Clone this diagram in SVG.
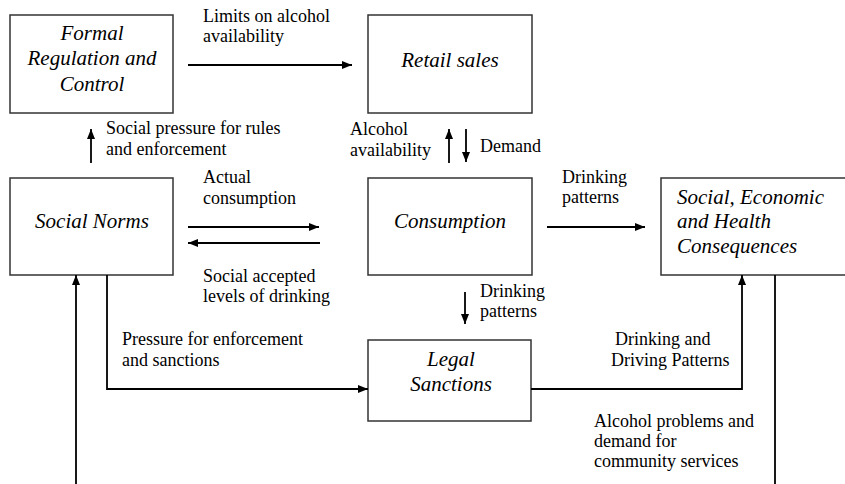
<svg xmlns="http://www.w3.org/2000/svg" width="845" height="484" viewBox="0 0 845 484">
<style>
  .box { fill: #ffffff; stroke: #333333; stroke-width: 1.5; }
  .node { font-style: italic; font-size: 21px; fill: #000000; }
  .lbl { font-size: 18px; fill: #000000; }
  .conn { fill: none; stroke: #000000; stroke-width: 1.8; }
  .mid { text-anchor: middle; }
</style>
<defs>
  <marker id="arr" markerUnits="userSpaceOnUse" markerWidth="11" markerHeight="9" refX="10" refY="4" orient="auto">
    <path d="M0,0 L10,4 L0,8 z" fill="#000000"/>
  </marker>
</defs>
<rect width="845" height="484" fill="#ffffff"/>

<g font-family="Liberation Serif, DejaVu Serif, serif">
<g id="formal">
  <rect class="box" x="10" y="15" width="163" height="98"/>
  <text class="node mid" x="92" y="40">Formal</text>
  <text class="node mid" x="92" y="65">Regulation and</text>
  <text class="node mid" x="92" y="91">Control</text>
</g>
<g id="retail">
  <rect class="box" x="368" y="15" width="164" height="98"/>
  <text class="node mid" x="450" y="67">Retail sales</text>
</g>
<g id="norms">
  <rect class="box" x="10" y="178" width="163" height="97"/>
  <text class="node mid" x="92" y="228">Social Norms</text>
</g>
<g id="consumption">
  <rect class="box" x="368" y="178" width="164" height="97"/>
  <text class="node mid" x="450" y="228">Consumption</text>
</g>
<g id="consequences">
  <rect class="box" x="661" y="178" width="190" height="97"/>
  <text class="node" x="677" y="204">Social, Economic</text>
  <text class="node" x="677" y="228">and Health</text>
  <text class="node" x="677" y="253">Consequences</text>
</g>
<g id="legal">
  <rect class="box" x="368" y="340" width="163" height="81"/>
  <text class="node mid" x="451" y="366">Legal</text>
  <text class="node mid" x="451" y="391">Sanctions</text>
</g>

<g id="connectors">
  <path class="conn" d="M188,65 H352" marker-end="url(#arr)"/>
  <path class="conn" d="M91,163 V129" marker-end="url(#arr)"/>
  <path class="conn" d="M449,163 V129" marker-end="url(#arr)"/>
  <path class="conn" d="M466,129 V162" marker-end="url(#arr)"/>
  <path class="conn" d="M188,227 H319" marker-end="url(#arr)"/>
  <path class="conn" d="M320,243 H188" marker-end="url(#arr)"/>
  <path class="conn" d="M547,227 H645" marker-end="url(#arr)"/>
  <path class="conn" d="M465,292 V324" marker-end="url(#arr)"/>
  <path class="conn" d="M107,275 V389 H368" marker-end="url(#arr)"/>
  <path class="conn" d="M531,389 H742 V275" marker-end="url(#arr)"/>
  <path class="conn" d="M775,275 V487 H76 V275" marker-end="url(#arr)"/>

  <text class="lbl" x="203" y="22">Limits on alcohol</text>
  <text class="lbl" x="203" y="42">availability</text>
  <text class="lbl" x="106" y="134">Social pressure for rules</text>
  <text class="lbl" x="106" y="155">and enforcement</text>
  <text class="lbl" x="350" y="135">Alcohol</text>
  <text class="lbl" x="350" y="156">availability</text>
  <text class="lbl" x="480" y="152">Demand</text>
  <text class="lbl" x="203" y="183">Actual</text>
  <text class="lbl" x="203" y="204">consumption</text>
  <text class="lbl" x="562" y="183">Drinking</text>
  <text class="lbl" x="562" y="203">patterns</text>
  <text class="lbl" x="203" y="282">Social accepted</text>
  <text class="lbl" x="203" y="302">levels of drinking</text>
  <text class="lbl" x="480" y="297">Drinking</text>
  <text class="lbl" x="480" y="317">patterns</text>
  <text class="lbl" x="122" y="345">Pressure for enforcement</text>
  <text class="lbl" x="122" y="366">and sanctions</text>
  <text class="lbl" x="615" y="345">Drinking and</text>
  <text class="lbl" x="611" y="366">Driving Patterns</text>
  <text class="lbl" x="594" y="427">Alcohol problems and</text>
  <text class="lbl" x="594" y="447">demand for</text>
  <text class="lbl" x="594" y="467">community services</text>
</g>
</g>
</svg>
